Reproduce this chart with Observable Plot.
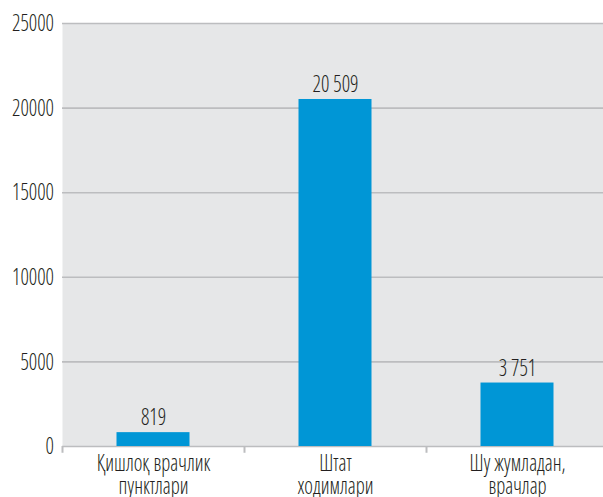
<!DOCTYPE html>
<html>
<head>
<meta charset="utf-8">
<script src="https://cdn.jsdelivr.net/npm/d3@7"></script>
<script src="https://cdn.jsdelivr.net/npm/@observablehq/plot@0.6"></script>
<style>
  html, body { margin: 0; padding: 0; background: #fff; }
  #chart svg { display: block; }
  #chart svg text { font-family: "Open Sans", sans-serif; font-stretch: condensed; font-weight: 300; }
</style>
</head>
<body>
<div id="chart"></div>
<script>
const categories = ["Қишлоқ врачлик\nпунктлари", "Штат\nходимлари", "Шу жумладан,\nврачлар"];
const values = [819, 20509, 3751];
const valueLabels = ["819", "20 509", "3 751"];
const yTicks = [0, 5000, 10000, 15000, 20000, 25000];

const data = categories.map((c, i) => ({cat: c, value: values[i], label: valueLabels[i]}));

const xRange = [62, 608];
const halfBand = (xRange[1] - xRange[0]) / categories.length / 2;
const FS = 24;
const TEXT_SCALE_X = 0.86;

const chart = Plot.plot({
  width: 603,
  height: 497,
  marginLeft: 62,
  marginRight: 0,
  marginTop: 23,
  marginBottom: 51,
  style: {fontFamily: "'Open Sans', sans-serif", fontSize: FS + "px", color: "#231f20", background: "#fff"},
  x: {domain: categories, range: xRange, padding: 0, axis: null},
  y: {domain: [0, 25000], range: [446, 23], axis: null},
  marks: [
    Plot.frame({fill: "#e6e7e8", stroke: null}),
    Plot.ruleY(yTicks, {stroke: "#bcbdbf", strokeWidth: 1.6}),
    Plot.ruleX(categories, {x: d => d, y1: 0, y2: -400, dx: -halfBand, stroke: "#bcbdbf", strokeWidth: 2}),
    Plot.barY(data, {x: "cat", y: "value", fill: "#0096d6", insetLeft: 54.5, insetRight: 54.5}),
    Plot.text(data, {x: "cat", y: "value", text: "label", lineAnchor: "bottom", dy: -7.5, fontSize: FS, fill: "#231f20"}),
    Plot.text(data, {x: "cat", y: 0, text: "cat", lineAnchor: "top", dy: 8, fontSize: FS, lineHeight: 0.96, fill: "#231f20"}),
    Plot.axisY({ticks: yTicks, tickSize: 0, tickPadding: 8.5, tickFormat: d3.format("d"), fontSize: FS, label: null, fill: "#231f20"})
  ]
});
// narrow the glyphs horizontally around each text's anchor (condensed face)
chart.querySelectorAll("text").forEach(t => {
  const tr = t.getAttribute("transform");
  if (tr) t.setAttribute("transform", tr + ` scale(${TEXT_SCALE_X},1)`);
  else {
    const x = +t.getAttribute("x") || 0, y = +t.getAttribute("y") || 0;
    t.setAttribute("transform", `translate(${x},${y}) scale(${TEXT_SCALE_X},1)`);
    t.removeAttribute("x"); t.removeAttribute("y");
  }
});
document.getElementById("chart").appendChild(chart);
</script>
</body>
</html>
